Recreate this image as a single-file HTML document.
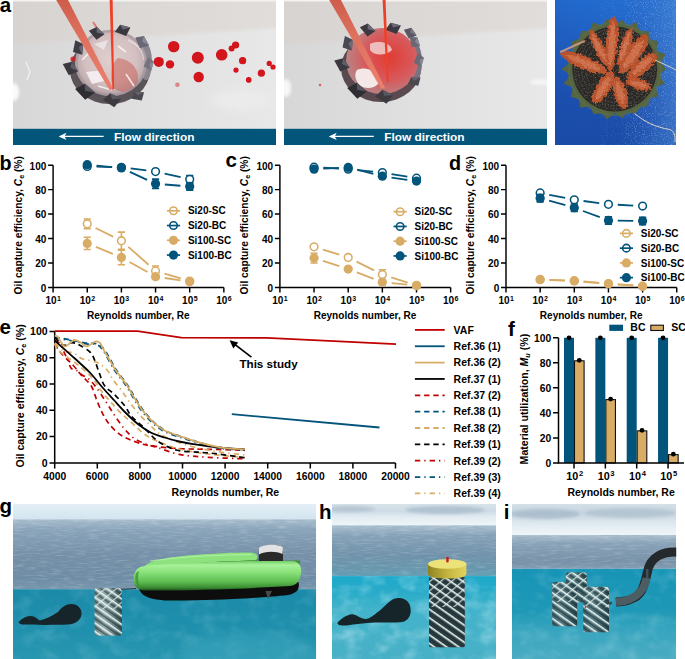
<!DOCTYPE html><html><head><meta charset="utf-8"><style>html,body{margin:0;padding:0;background:#fff;overflow:hidden}svg{display:block}</style></head><body>
<svg width="685" height="659" viewBox="0 0 685 659">
<rect width="685" height="659" fill="#fff"/>
<path d="M53.1 165.2V287.4H223.85" stroke="#000" stroke-width="1.45" fill="none"/>
<path d="M48.1 287.4H53.1M48.1 262.96H53.1M48.1 238.52H53.1M48.1 214.08H53.1M48.1 189.64H53.1M48.1 165.2H53.1M53.1 287.4V292.4M87.25 287.4V292.4M121.4 287.4V292.4M155.55 287.4V292.4M189.7 287.4V292.4M223.85 287.4V292.4" stroke="#000" stroke-width="1.45" fill="none"/>
<g font-family="Liberation Sans, sans-serif" font-weight="bold" fill="#000">
<text x="46.3" y="291.7" font-size="10" text-anchor="end">0</text>
<text x="46.3" y="267.26" font-size="10" text-anchor="end">20</text>
<text x="46.3" y="242.82" font-size="10" text-anchor="end">40</text>
<text x="46.3" y="218.38" font-size="10" text-anchor="end">60</text>
<text x="46.3" y="193.94" font-size="10" text-anchor="end">80</text>
<text x="46.3" y="169.5" font-size="10" text-anchor="end">100</text>
<text x="45.5" y="303.9" font-size="10">10<tspan font-size="7" dx="0.4" dy="-3.1">1</tspan></text>
<text x="79.65" y="303.9" font-size="10">10<tspan font-size="7" dx="0.4" dy="-3.1">2</tspan></text>
<text x="113.8" y="303.9" font-size="10">10<tspan font-size="7" dx="0.4" dy="-3.1">3</tspan></text>
<text x="147.95" y="303.9" font-size="10">10<tspan font-size="7" dx="0.4" dy="-3.1">4</tspan></text>
<text x="182.1" y="303.9" font-size="10">10<tspan font-size="7" dx="0.4" dy="-3.1">5</tspan></text>
<text x="216.25" y="303.9" font-size="10">10<tspan font-size="7" dx="0.4" dy="-3.1">6</tspan></text>
<text x="86.9" y="318.7" font-size="10.1" textLength="102.7" lengthAdjust="spacingAndGlyphs">Reynolds number, Re</text>
<text transform="translate(22.3,294.4) rotate(-90)" font-size="10.4" textLength="138.2" lengthAdjust="spacingAndGlyphs">Oil capture efficiency, <tspan font-style="italic">C</tspan><tspan font-size="7.2" dy="2">e</tspan><tspan dy="-2"> (%)</tspan></text>
<text x="-0.4" y="169.8" font-size="19.8">b</text>
</g>
<path d="M95.59 227.97L113.06 236.6M128.37 246.88L148.58 264.74M164.47 273.55L180.78 278.4" stroke="#d9ac66" stroke-width="1.8" fill="none"/>
<path d="M95.85 246.95L112.8 253.92M129.51 262.02L147.44 272.09M164.75 278L180.5 280.31" stroke="#d9ac66" stroke-width="1.8" fill="none"/>
<path d="M96.55 166.65L112.1 167.04M130.63 168.43L146.32 170.4M164.62 173.6L180.63 177.21" stroke="#03547a" stroke-width="1.8" fill="none"/>
<path d="M96.51 165.57L112.14 167.03M129.83 171.81L147.12 179.85M164.82 184.5L180.43 185.73" stroke="#03547a" stroke-width="1.8" fill="none"/>
<path d="M87.25 218.97V228.74M83.65 218.97H90.85M83.65 228.74H90.85" stroke="#d9ac66" stroke-width="1.6" fill="none"/>
<path d="M121.4 232.17V249.27M117.8 232.17H125M117.8 249.27H125" stroke="#d9ac66" stroke-width="1.6" fill="none"/>
<path d="M155.55 266.01V275.79M151.95 266.01H159.15M151.95 275.79H159.15" stroke="#d9ac66" stroke-width="1.6" fill="none"/>
<circle cx="87.25" cy="223.86" r="3.85" fill="#fff" stroke="#d9ac66" stroke-width="1.55"/>
<circle cx="121.4" cy="240.72" r="3.85" fill="#fff" stroke="#d9ac66" stroke-width="1.55"/>
<circle cx="155.55" cy="270.9" r="3.85" fill="#fff" stroke="#d9ac66" stroke-width="1.55"/>
<circle cx="189.7" cy="281.05" r="3.85" fill="#fff" stroke="#d9ac66" stroke-width="1.55"/>
<path d="M87.25 237.3V249.52M83.65 237.3H90.85M83.65 249.52H90.85" stroke="#d9ac66" stroke-width="1.6" fill="none"/>
<path d="M121.4 250.13V264.79M117.8 250.13H125M117.8 264.79H125" stroke="#d9ac66" stroke-width="1.6" fill="none"/>
<path d="M155.55 274.2V279.09M151.95 274.2H159.15M151.95 279.09H159.15" stroke="#d9ac66" stroke-width="1.6" fill="none"/>
<circle cx="87.25" cy="243.41" r="4.62" fill="#d9ac66"/>
<circle cx="121.4" cy="257.46" r="4.62" fill="#d9ac66"/>
<circle cx="155.55" cy="276.65" r="4.62" fill="#d9ac66"/>
<circle cx="189.7" cy="281.66" r="4.62" fill="#d9ac66"/>
<path d="M189.7 175.59V182.92M186.1 175.59H193.3M186.1 182.92H193.3" stroke="#03547a" stroke-width="1.6" fill="none"/>
<circle cx="87.25" cy="166.42" r="3.85" fill="#fff" stroke="#03547a" stroke-width="1.55"/>
<circle cx="121.4" cy="167.28" r="3.85" fill="#fff" stroke="#03547a" stroke-width="1.55"/>
<circle cx="155.55" cy="171.55" r="3.85" fill="#fff" stroke="#03547a" stroke-width="1.55"/>
<circle cx="189.7" cy="179.25" r="3.85" fill="#fff" stroke="#03547a" stroke-width="1.55"/>
<path d="M155.55 179.13V188.42M151.95 179.13H159.15M151.95 188.42H159.15" stroke="#03547a" stroke-width="1.6" fill="none"/>
<path d="M189.7 182.8V190.13M186.1 182.8H193.3M186.1 190.13H193.3" stroke="#03547a" stroke-width="1.6" fill="none"/>
<circle cx="87.25" cy="164.71" r="4.62" fill="#03547a"/>
<circle cx="121.4" cy="167.89" r="4.62" fill="#03547a"/>
<circle cx="155.55" cy="183.77" r="4.62" fill="#03547a"/>
<circle cx="189.7" cy="186.46" r="4.62" fill="#03547a"/>
<circle cx="173.5" cy="210.8" r="3.75" fill="none" stroke="#d9ac66" stroke-width="1.6"/>
<path d="M166.9 210.8H180.1" stroke="#d9ac66" stroke-width="1.7"/>
<text x="187.9" y="214.4" font-family="Liberation Sans, sans-serif" font-weight="bold" font-size="10">Si20-SC</text>
<circle cx="173.5" cy="225.55" r="3.75" fill="none" stroke="#03547a" stroke-width="1.6"/>
<path d="M166.9 225.55H180.1" stroke="#03547a" stroke-width="1.7"/>
<text x="187.9" y="229.15" font-family="Liberation Sans, sans-serif" font-weight="bold" font-size="10">Si20-BC</text>
<circle cx="173.5" cy="240.3" r="4.58" fill="#d9ac66"/>
<path d="M166.9 240.3H180.1" stroke="#d9ac66" stroke-width="1.7"/>
<text x="187.9" y="243.9" font-family="Liberation Sans, sans-serif" font-weight="bold" font-size="10">Si100-SC</text>
<circle cx="173.5" cy="255.05" r="4.58" fill="#03547a"/>
<path d="M166.9 255.05H180.1" stroke="#03547a" stroke-width="1.7"/>
<text x="187.9" y="258.65" font-family="Liberation Sans, sans-serif" font-weight="bold" font-size="10">Si100-BC</text>
<path d="M279.9 165.2V287.4H450.65" stroke="#000" stroke-width="1.45" fill="none"/>
<path d="M274.9 287.4H279.9M274.9 262.96H279.9M274.9 238.52H279.9M274.9 214.08H279.9M274.9 189.64H279.9M274.9 165.2H279.9M279.9 287.4V292.4M314.05 287.4V292.4M348.2 287.4V292.4M382.35 287.4V292.4M416.5 287.4V292.4M450.65 287.4V292.4" stroke="#000" stroke-width="1.45" fill="none"/>
<g font-family="Liberation Sans, sans-serif" font-weight="bold" fill="#000">
<text x="273.1" y="291.7" font-size="10" text-anchor="end">0</text>
<text x="273.1" y="267.26" font-size="10" text-anchor="end">20</text>
<text x="273.1" y="242.82" font-size="10" text-anchor="end">40</text>
<text x="273.1" y="218.38" font-size="10" text-anchor="end">60</text>
<text x="273.1" y="193.94" font-size="10" text-anchor="end">80</text>
<text x="273.1" y="169.5" font-size="10" text-anchor="end">100</text>
<text x="272.3" y="303.9" font-size="10">10<tspan font-size="7" dx="0.4" dy="-3.1">1</tspan></text>
<text x="306.45" y="303.9" font-size="10">10<tspan font-size="7" dx="0.4" dy="-3.1">2</tspan></text>
<text x="340.6" y="303.9" font-size="10">10<tspan font-size="7" dx="0.4" dy="-3.1">3</tspan></text>
<text x="374.75" y="303.9" font-size="10">10<tspan font-size="7" dx="0.4" dy="-3.1">4</tspan></text>
<text x="408.9" y="303.9" font-size="10">10<tspan font-size="7" dx="0.4" dy="-3.1">5</tspan></text>
<text x="443.05" y="303.9" font-size="10">10<tspan font-size="7" dx="0.4" dy="-3.1">6</tspan></text>
<text x="313.7" y="318.7" font-size="10.1" textLength="102.7" lengthAdjust="spacingAndGlyphs">Reynolds number, Re</text>
<text transform="translate(248.3,294.4) rotate(-90)" font-size="10.4" textLength="138.2" lengthAdjust="spacingAndGlyphs">Oil capture efficiency, <tspan font-style="italic">C</tspan><tspan font-size="7.2" dy="2">e</tspan><tspan dy="-2"> (%)</tspan></text>
<text x="225.6" y="166.6" font-size="20.6">c</text>
</g>
<path d="M322.93 249.59L339.32 254.7M356.51 261.63L374.04 270.4M391.21 277.39L407.64 282.62" stroke="#d9ac66" stroke-width="1.8" fill="none"/>
<path d="M322.9 260.92L339.35 266.22M356.89 272.4L373.66 278.82M391.6 283.07L407.25 284.64" stroke="#d9ac66" stroke-width="1.8" fill="none"/>
<path d="M323.33 167.69L338.92 168.58M357.45 170.04L373.1 171.6M391.53 174.04L407.32 176.64" stroke="#03547a" stroke-width="1.8" fill="none"/>
<path d="M323.34 168.65L338.91 167.86M357.21 169.72L373.34 173.88M391.56 177.52L407.29 179.77" stroke="#03547a" stroke-width="1.8" fill="none"/>
<path d="M382.35 269.68V279.46M378.75 269.68H385.95M378.75 279.46H385.95" stroke="#d9ac66" stroke-width="1.6" fill="none"/>
<circle cx="314.05" cy="246.83" r="3.85" fill="#fff" stroke="#d9ac66" stroke-width="1.55"/>
<circle cx="348.2" cy="257.46" r="3.85" fill="#fff" stroke="#d9ac66" stroke-width="1.55"/>
<circle cx="382.35" cy="274.57" r="3.85" fill="#fff" stroke="#d9ac66" stroke-width="1.55"/>
<circle cx="416.5" cy="285.44" r="3.85" fill="#fff" stroke="#d9ac66" stroke-width="1.55"/>
<path d="M314.05 253.18V262.96M310.45 253.18H317.65M310.45 262.96H317.65" stroke="#d9ac66" stroke-width="1.6" fill="none"/>
<path d="M382.35 279.7V284.59M378.75 279.7H385.95M378.75 284.59H385.95" stroke="#d9ac66" stroke-width="1.6" fill="none"/>
<circle cx="314.05" cy="258.07" r="4.62" fill="#d9ac66"/>
<circle cx="348.2" cy="269.07" r="4.62" fill="#d9ac66"/>
<circle cx="382.35" cy="282.15" r="4.62" fill="#d9ac66"/>
<circle cx="416.5" cy="285.57" r="4.62" fill="#d9ac66"/>
<circle cx="314.05" cy="167.16" r="3.85" fill="#fff" stroke="#03547a" stroke-width="1.55"/>
<circle cx="348.2" cy="169.11" r="3.85" fill="#fff" stroke="#03547a" stroke-width="1.55"/>
<circle cx="382.35" cy="172.53" r="3.85" fill="#fff" stroke="#03547a" stroke-width="1.55"/>
<circle cx="416.5" cy="178.15" r="3.85" fill="#fff" stroke="#03547a" stroke-width="1.55"/>
<circle cx="314.05" cy="169.11" r="4.62" fill="#03547a"/>
<circle cx="348.2" cy="167.4" r="4.62" fill="#03547a"/>
<circle cx="382.35" cy="176.2" r="4.62" fill="#03547a"/>
<circle cx="416.5" cy="181.09" r="4.62" fill="#03547a"/>
<circle cx="400.1" cy="211.7" r="3.75" fill="none" stroke="#d9ac66" stroke-width="1.6"/>
<path d="M393.5 211.7H406.7" stroke="#d9ac66" stroke-width="1.7"/>
<text x="414.5" y="215.3" font-family="Liberation Sans, sans-serif" font-weight="bold" font-size="10">Si20-SC</text>
<circle cx="400.1" cy="226.45" r="3.75" fill="none" stroke="#03547a" stroke-width="1.6"/>
<path d="M393.5 226.45H406.7" stroke="#03547a" stroke-width="1.7"/>
<text x="414.5" y="230.05" font-family="Liberation Sans, sans-serif" font-weight="bold" font-size="10">Si20-BC</text>
<circle cx="400.1" cy="241.2" r="4.58" fill="#d9ac66"/>
<path d="M393.5 241.2H406.7" stroke="#d9ac66" stroke-width="1.7"/>
<text x="414.5" y="244.8" font-family="Liberation Sans, sans-serif" font-weight="bold" font-size="10">Si100-SC</text>
<circle cx="400.1" cy="255.95" r="4.58" fill="#03547a"/>
<path d="M393.5 255.95H406.7" stroke="#03547a" stroke-width="1.7"/>
<text x="414.5" y="259.55" font-family="Liberation Sans, sans-serif" font-weight="bold" font-size="10">Si100-BC</text>
<path d="M506 165.2V287.4H676.75" stroke="#000" stroke-width="1.45" fill="none"/>
<path d="M501 287.4H506M501 262.96H506M501 238.52H506M501 214.08H506M501 189.64H506M501 165.2H506M506 287.4V292.4M540.15 287.4V292.4M574.3 287.4V292.4M608.45 287.4V292.4M642.6 287.4V292.4M676.75 287.4V292.4" stroke="#000" stroke-width="1.45" fill="none"/>
<g font-family="Liberation Sans, sans-serif" font-weight="bold" fill="#000">
<text x="499.2" y="291.7" font-size="10" text-anchor="end">0</text>
<text x="499.2" y="267.26" font-size="10" text-anchor="end">20</text>
<text x="499.2" y="242.82" font-size="10" text-anchor="end">40</text>
<text x="499.2" y="218.38" font-size="10" text-anchor="end">60</text>
<text x="499.2" y="193.94" font-size="10" text-anchor="end">80</text>
<text x="499.2" y="169.5" font-size="10" text-anchor="end">100</text>
<text x="498.4" y="303.9" font-size="10">10<tspan font-size="7" dx="0.4" dy="-3.1">1</tspan></text>
<text x="532.55" y="303.9" font-size="10">10<tspan font-size="7" dx="0.4" dy="-3.1">2</tspan></text>
<text x="566.7" y="303.9" font-size="10">10<tspan font-size="7" dx="0.4" dy="-3.1">3</tspan></text>
<text x="600.85" y="303.9" font-size="10">10<tspan font-size="7" dx="0.4" dy="-3.1">4</tspan></text>
<text x="635" y="303.9" font-size="10">10<tspan font-size="7" dx="0.4" dy="-3.1">5</tspan></text>
<text x="669.15" y="303.9" font-size="10">10<tspan font-size="7" dx="0.4" dy="-3.1">6</tspan></text>
<text x="539.8" y="318.7" font-size="10.1" textLength="102.7" lengthAdjust="spacingAndGlyphs">Reynolds number, Re</text>
<text transform="translate(474.4,294.4) rotate(-90)" font-size="10.4" textLength="138.2" lengthAdjust="spacingAndGlyphs">Oil capture efficiency, <tspan font-style="italic">C</tspan><tspan font-size="7.2" dy="2">e</tspan><tspan dy="-2"> (%)</tspan></text>
<text x="448.9" y="169.8" font-size="19.8">d</text>
</g>
<path d="M549.44 279.79L565.01 280.35M583.56 281.51L599.19 282.91M617.73 284.4L633.32 285.51" stroke="#d9ac66" stroke-width="1.8" fill="none"/>
<path d="M549.44 280.07L565.01 280.68M583.57 281.78L599.18 283M617.73 284.4L633.32 285.51" stroke="#d9ac66" stroke-width="1.8" fill="none"/>
<path d="M549.27 194.77L565.18 197.96M583.52 201L599.23 203.08M617.74 204.77L633.31 205.55" stroke="#03547a" stroke-width="1.8" fill="none"/>
<path d="M549.11 200.69L565.34 205.23M583.02 210.97L599.73 217.19M617.75 220.6L633.3 220.88" stroke="#03547a" stroke-width="1.8" fill="none"/>
<circle cx="540.15" cy="279.46" r="3.85" fill="#fff" stroke="#d9ac66" stroke-width="1.55"/>
<circle cx="574.3" cy="280.68" r="3.85" fill="#fff" stroke="#d9ac66" stroke-width="1.55"/>
<circle cx="608.45" cy="283.73" r="3.85" fill="#fff" stroke="#d9ac66" stroke-width="1.55"/>
<circle cx="642.6" cy="286.18" r="3.85" fill="#fff" stroke="#d9ac66" stroke-width="1.55"/>
<circle cx="540.15" cy="279.7" r="4.62" fill="#d9ac66"/>
<circle cx="574.3" cy="281.05" r="4.62" fill="#d9ac66"/>
<circle cx="608.45" cy="283.73" r="4.62" fill="#d9ac66"/>
<circle cx="642.6" cy="286.18" r="4.62" fill="#d9ac66"/>
<circle cx="540.15" cy="192.94" r="3.85" fill="#fff" stroke="#03547a" stroke-width="1.55"/>
<circle cx="574.3" cy="199.78" r="3.85" fill="#fff" stroke="#03547a" stroke-width="1.55"/>
<circle cx="608.45" cy="204.3" r="3.85" fill="#fff" stroke="#03547a" stroke-width="1.55"/>
<circle cx="642.6" cy="206.01" r="3.85" fill="#fff" stroke="#03547a" stroke-width="1.55"/>
<path d="M540.15 194.53V201.86M536.55 194.53H543.75M536.55 201.86H543.75" stroke="#03547a" stroke-width="1.6" fill="none"/>
<path d="M574.3 204.06V211.39M570.7 204.06H577.9M570.7 211.39H577.9" stroke="#03547a" stroke-width="1.6" fill="none"/>
<path d="M608.45 216.77V224.1M604.85 216.77H612.05M604.85 224.1H612.05" stroke="#03547a" stroke-width="1.6" fill="none"/>
<path d="M642.6 217.38V224.71M639 217.38H646.2M639 224.71H646.2" stroke="#03547a" stroke-width="1.6" fill="none"/>
<circle cx="540.15" cy="198.19" r="4.62" fill="#03547a"/>
<circle cx="574.3" cy="207.73" r="4.62" fill="#03547a"/>
<circle cx="608.45" cy="220.43" r="4.62" fill="#03547a"/>
<circle cx="642.6" cy="221.05" r="4.62" fill="#03547a"/>
<circle cx="626.4" cy="233.4" r="3.75" fill="none" stroke="#d9ac66" stroke-width="1.6"/>
<path d="M619.8 233.4H633" stroke="#d9ac66" stroke-width="1.7"/>
<text x="640.8" y="237" font-family="Liberation Sans, sans-serif" font-weight="bold" font-size="10">Si20-SC</text>
<circle cx="626.4" cy="248.15" r="3.75" fill="none" stroke="#03547a" stroke-width="1.6"/>
<path d="M619.8 248.15H633" stroke="#03547a" stroke-width="1.7"/>
<text x="640.8" y="251.75" font-family="Liberation Sans, sans-serif" font-weight="bold" font-size="10">Si20-BC</text>
<circle cx="626.4" cy="262.9" r="4.58" fill="#d9ac66"/>
<path d="M619.8 262.9H633" stroke="#d9ac66" stroke-width="1.7"/>
<text x="640.8" y="266.5" font-family="Liberation Sans, sans-serif" font-weight="bold" font-size="10">Si100-SC</text>
<circle cx="626.4" cy="277.65" r="4.58" fill="#03547a"/>
<path d="M619.8 277.65H633" stroke="#03547a" stroke-width="1.7"/>
<text x="640.8" y="281.25" font-family="Liberation Sans, sans-serif" font-weight="bold" font-size="10">Si100-BC</text>
<path d="M54.7 331.4V462.9H395.5" stroke="#000" stroke-width="1.5" fill="none"/>
<path d="M49.5 462.9H54.7M49.5 436.6H54.7M49.5 410.3H54.7M49.5 384H54.7M49.5 357.7H54.7M49.5 331.4H54.7M54.7 462.9V468.4M97.3 462.9V468.4M139.9 462.9V468.4M182.5 462.9V468.4M225.1 462.9V468.4M267.7 462.9V468.4M310.3 462.9V468.4M352.9 462.9V468.4M395.5 462.9V468.4" stroke="#000" stroke-width="1.5" fill="none"/>
<g font-family="Liberation Sans, sans-serif" font-weight="bold" fill="#000">
<text x="47.6" y="466.7" font-size="10.5" text-anchor="end">0</text>
<text x="47.6" y="440.4" font-size="10.5" text-anchor="end">20</text>
<text x="47.6" y="414.1" font-size="10.5" text-anchor="end">40</text>
<text x="47.6" y="387.8" font-size="10.5" text-anchor="end">60</text>
<text x="47.6" y="361.5" font-size="10.5" text-anchor="end">80</text>
<text x="47.6" y="335.2" font-size="10.5" text-anchor="end">100</text>
<text x="54.7" y="479.6" font-size="10.3" text-anchor="middle">4000</text>
<text x="97.3" y="479.6" font-size="10.3" text-anchor="middle">6000</text>
<text x="139.9" y="479.6" font-size="10.3" text-anchor="middle">8000</text>
<text x="182.5" y="479.6" font-size="10.3" text-anchor="middle">10000</text>
<text x="225.1" y="479.6" font-size="10.3" text-anchor="middle">12000</text>
<text x="267.7" y="479.6" font-size="10.3" text-anchor="middle">14000</text>
<text x="310.3" y="479.6" font-size="10.3" text-anchor="middle">16000</text>
<text x="352.9" y="479.6" font-size="10.3" text-anchor="middle">18000</text>
<text x="395.5" y="479.6" font-size="10.3" text-anchor="middle">20000</text>
<text x="171.6" y="495.9" font-size="10.5" textLength="107.6" lengthAdjust="spacingAndGlyphs">Reynolds number, Re</text>
<text transform="translate(23.6,467.6) rotate(-90)" font-size="10.8" textLength="143.4" lengthAdjust="spacingAndGlyphs">Oil capture efficiency, <tspan font-style="italic">C</tspan><tspan font-size="7.4" dy="2">e</tspan><tspan dy="-2"> (%)</tspan></text>
<text x="-0.4" y="333.6" font-size="20.5">e</text>
<text x="239.4" y="368.2" font-size="11.5" textLength="58.3" lengthAdjust="spacingAndGlyphs">This study</text>
</g>
<path d="M251.4 357.2L233.5 343.3" stroke="#000" stroke-width="1.7"/>
<path d="M229.6 340.3L238.2 342.6L233.3 348.5Z" fill="#000"/>
<path d="M54.7 340.5C55.62 341.08 58.65 342.08 60.2 344C61.75 345.92 62.78 349.4 64 352C65.22 354.6 66.33 356.93 67.5 359.6C68.67 362.27 69.75 366.27 71 368C72.25 369.73 73.83 369.5 75 370C76.17 370.5 76.83 370.17 78 371C79.17 371.83 80.27 373.72 82 375C83.73 376.28 86.07 376.7 88.4 378.7C90.73 380.7 93.1 383.18 96 387C98.9 390.82 102.75 396.95 105.8 401.6C108.85 406.25 111.27 410.45 114.3 414.9C117.33 419.35 120.77 424.45 124 428.3C127.23 432.15 130.07 435.38 133.7 438C137.33 440.62 141.75 442.38 145.8 444C149.85 445.62 152.43 445.97 158 447.7C163.57 449.43 170.8 452.8 179.2 454.4C187.6 456 197.43 456.57 208.4 457.3C219.37 458.03 238.9 458.55 245 458.8" stroke="#c00000" stroke-width="1.7" fill="none" stroke-dasharray="5.4 4 1.3 4"/>
<path d="M54.7 344C55.77 345.53 58.07 349.7 61.1 353.2C64.13 356.7 69.42 361.2 72.9 365C76.38 368.8 78.95 372.53 82 376C85.05 379.47 88.65 381.53 91.2 385.8C93.75 390.07 95.28 396.75 97.3 401.6C99.32 406.45 101.08 410.87 103.3 414.9C105.52 418.93 107.55 422.37 110.6 425.8C113.65 429.23 117.55 432.87 121.6 435.5C125.65 438.13 130.17 439.9 134.9 441.6C139.63 443.3 142.62 444.53 150 445.7C157.38 446.87 169.47 448 179.2 448.6C188.93 449.2 197.43 449.02 208.4 449.3C219.37 449.58 238.9 450.13 245 450.3" stroke="#c00000" stroke-width="1.7" fill="none" stroke-dasharray="5.4 3.8"/>
<path d="M54.7 338.2C56.68 338.47 61.28 338.87 66.6 339.8C71.92 340.73 81.7 343.05 86.6 343.8C91.5 344.55 93.37 343.35 96 344.3C98.63 345.25 99.83 346.07 102.4 349.5C104.97 352.93 109.32 361.35 111.4 364.9C113.48 368.45 112.5 367.38 114.9 370.8C117.3 374.22 122.77 380.95 125.8 385.4C128.83 389.85 130.47 393.27 133.1 397.5C135.73 401.73 138.37 406.55 141.6 410.8C144.83 415.05 149.07 419.75 152.5 423C155.93 426.25 159.55 428.58 162.2 430.3C164.85 432.02 164.45 431.82 168.4 433.3C172.35 434.78 179.82 437.25 185.9 439.2C191.98 441.15 198.82 443.43 204.9 445C210.98 446.57 215.83 447.75 222.4 448.6C228.97 449.45 240.65 449.85 244.3 450.1" stroke="#03547a" stroke-width="1.7" fill="none" stroke-dasharray="5.4 4 1.3 4"/>
<path d="M54.7 337.6C56.68 337.85 61.28 338.17 66.6 339.1C71.92 340.03 81.7 342.45 86.6 343.2C91.5 343.95 93.1 342.63 96 343.6C98.9 344.57 101.17 345.53 104 349C106.83 352.47 110.92 360.85 113 364.4C115.08 367.95 114.1 366.88 116.5 370.3C118.9 373.72 124.37 380.45 127.4 384.9C130.43 389.35 132.07 392.77 134.7 397C137.33 401.23 139.97 406.05 143.2 410.3C146.43 414.55 150.67 419.25 154.1 422.5C157.53 425.75 161.15 428.08 163.8 429.8C166.45 431.52 166.05 431.32 170 432.8C173.95 434.28 181.42 436.75 187.5 438.7C193.58 440.65 200.42 442.93 206.5 444.5C212.58 446.07 217.43 447.25 224 448.1C230.57 448.95 242.25 449.35 245.9 449.6" stroke="#03547a" stroke-width="1.7" fill="none" stroke-dasharray="5.4 3.8"/>
<path d="M54.7 343.5C55.17 344.52 55.67 347.52 57.5 349.6C59.33 351.68 62.07 353.27 65.7 356C69.33 358.73 74.75 362.22 79.3 366C83.85 369.78 89.4 374.6 93 378.7C96.6 382.8 98.17 387 100.9 390.6C103.63 394.2 106.17 396.65 109.4 400.3C112.63 403.95 116.45 408.65 120.3 412.5C124.15 416.35 128.45 419.77 132.5 423.4C136.55 427.03 140.35 431.28 144.6 434.3C148.85 437.32 152.27 439.05 158 441.5C163.73 443.95 170.67 446.92 179 449C187.33 451.08 197 452.58 208 454C219 455.42 238.83 456.92 245 457.5" stroke="#d9ac66" stroke-width="1.7" fill="none" stroke-dasharray="5.4 3.8"/>
<path d="M54.7 343C56.07 344.25 59.7 348.8 62.9 350.5C66.1 352.2 70.72 351.83 73.9 353.2C77.08 354.57 78.22 357.18 82 358.7C85.78 360.22 92.43 360.42 96.6 362.3C100.77 364.18 104.27 367.1 107 370C109.73 372.9 110.57 376.27 113 379.7C115.43 383.13 118.77 386.75 121.6 390.6C124.43 394.45 126.97 398.75 130 402.8C133.03 406.85 136.35 411.07 139.8 414.9C143.25 418.73 147.27 422.57 150.7 425.8C154.13 429.03 155.52 431.43 160.4 434.3C165.28 437.17 171.73 440.3 180 443C188.27 445.7 199.17 448.5 210 450.5C220.83 452.5 239.17 454.25 245 455" stroke="#d9ac66" stroke-width="1.7" fill="none" stroke-dasharray="5.4 4 1.3 4"/>
<path d="M54.7 337.5C56.22 338.78 60.92 344.33 63.8 345.2C66.68 346.07 69.42 342.73 72 342.7C74.58 342.67 76.25 343.4 79.3 345C82.35 346.6 87.72 349.72 90.3 352.3C92.88 354.88 93.28 357 94.8 360.5C96.32 364 97.77 369.08 99.4 373.3C101.03 377.52 102.12 382.3 104.6 385.8C107.08 389.3 110.87 390.87 114.3 394.3C117.73 397.73 122.37 402.77 125.2 406.4C128.03 410.03 128.07 412.45 131.3 416.1C134.53 419.75 140.15 424.1 144.6 428.3C149.05 432.5 152.72 437.68 158 441.3C163.28 444.92 169.6 448.18 176.3 450C183 451.82 191.63 451.58 198.2 452.2C204.77 452.82 207.9 452.77 215.7 453.7C223.5 454.63 240.12 457.12 245 457.8" stroke="#000" stroke-width="1.7" fill="none" stroke-dasharray="5.4 3.8"/>
<path d="M54.7 340.5C58.05 343.5 68.87 353.08 74.8 358.5C80.73 363.92 85.75 368.25 90.3 373C94.85 377.75 98.1 382.42 102.1 387C106.1 391.58 110.25 396.08 114.3 400.5C118.35 404.92 122.37 409.5 126.4 413.5C130.43 417.5 134.45 421.33 138.5 424.5C142.55 427.67 146.35 430.33 150.7 432.5C155.05 434.67 159.85 436 164.6 437.5C169.35 439 174.33 440.38 179.2 441.5C184.07 442.62 188.93 443.38 193.8 444.2C198.67 445.02 203.53 445.8 208.4 446.4C213.27 447 216.9 447.28 223 447.8C229.1 448.32 241.33 449.22 245 449.5" stroke="#000" stroke-width="1.8" fill="none"/>
<path d="M54.7 335.5C55.25 335.75 56.33 335.18 58 337C59.67 338.82 62.05 345.87 64.7 346.4C67.35 346.93 71.35 340.93 73.9 340.2C76.45 339.47 77.88 340.97 80 342C82.12 343.03 83.98 346.5 86.6 346.4C89.22 346.3 93.47 341.97 95.7 341.4C97.93 340.83 98.78 341.78 100 343C101.22 344.22 101 345.18 103 348.7C105 352.22 109.92 360.55 112 364.1C114.08 367.65 113.1 366.58 115.5 370C117.9 373.42 123.37 380.15 126.4 384.6C129.43 389.05 131.07 392.47 133.7 396.7C136.33 400.93 138.97 405.75 142.2 410C145.43 414.25 149.67 418.95 153.1 422.2C156.53 425.45 160.15 427.78 162.8 429.5C165.45 431.22 165.05 431.02 169 432.5C172.95 433.98 180.42 436.45 186.5 438.4C192.58 440.35 199.42 442.63 205.5 444.2C211.58 445.77 216.43 446.95 223 447.8C229.57 448.65 241.25 449.05 244.9 449.3" stroke="#d9ac66" stroke-width="1.8" fill="none"/>
<path d="M231.8 414.2L379.5 427.5" stroke="#03547a" stroke-width="1.8" fill="none"/>
<path d="M54.7 331.2H137.5L181.3 337.6L266.7 337.9L396 344.2" stroke="#c00000" stroke-width="1.8" fill="none"/>
<path d="M414.9 329.9H444.7" stroke="#c00000" stroke-width="1.8"/>
<text x="453.6" y="333.7" font-family="Liberation Sans, sans-serif" font-weight="bold" font-size="10.5">VAF</text>
<path d="M414.9 346.25H444.7" stroke="#03547a" stroke-width="1.8"/>
<text x="453.6" y="350.05" font-family="Liberation Sans, sans-serif" font-weight="bold" font-size="10.5">Ref.36 (1)</text>
<path d="M414.9 362.6H444.7" stroke="#d9ac66" stroke-width="1.8"/>
<text x="453.6" y="366.4" font-family="Liberation Sans, sans-serif" font-weight="bold" font-size="10.5">Ref.36 (2)</text>
<path d="M414.9 378.95H444.7" stroke="#000" stroke-width="1.8"/>
<text x="453.6" y="382.75" font-family="Liberation Sans, sans-serif" font-weight="bold" font-size="10.5">Ref.37 (1)</text>
<path d="M414.9 395.3H444.7" stroke="#c00000" stroke-width="1.8" stroke-dasharray="5.4 3.8"/>
<text x="453.6" y="399.1" font-family="Liberation Sans, sans-serif" font-weight="bold" font-size="10.5">Ref.37 (2)</text>
<path d="M414.9 411.65H444.7" stroke="#03547a" stroke-width="1.8" stroke-dasharray="5.4 3.8"/>
<text x="453.6" y="415.45" font-family="Liberation Sans, sans-serif" font-weight="bold" font-size="10.5">Ref.38 (1)</text>
<path d="M414.9 428H444.7" stroke="#d9ac66" stroke-width="1.8" stroke-dasharray="5.4 3.8"/>
<text x="453.6" y="431.8" font-family="Liberation Sans, sans-serif" font-weight="bold" font-size="10.5">Ref.38 (2)</text>
<path d="M414.9 444.35H444.7" stroke="#000" stroke-width="1.8" stroke-dasharray="5.4 3.8"/>
<text x="453.6" y="448.15" font-family="Liberation Sans, sans-serif" font-weight="bold" font-size="10.5">Ref.39 (1)</text>
<path d="M414.9 460.7H444.7" stroke="#c00000" stroke-width="1.8" stroke-dasharray="5.4 4 1.3 4"/>
<text x="453.6" y="464.5" font-family="Liberation Sans, sans-serif" font-weight="bold" font-size="10.5">Ref.39 (2)</text>
<path d="M414.9 477.05H444.7" stroke="#03547a" stroke-width="1.8" stroke-dasharray="5.4 4 1.3 4"/>
<text x="453.6" y="480.85" font-family="Liberation Sans, sans-serif" font-weight="bold" font-size="10.5">Ref.39 (3)</text>
<path d="M414.9 493.4H444.7" stroke="#d9ac66" stroke-width="1.8" stroke-dasharray="5.4 4 1.3 4"/>
<text x="453.6" y="497.2" font-family="Liberation Sans, sans-serif" font-weight="bold" font-size="10.5">Ref.39 (4)</text>
<rect x="564" y="337.8" width="10" height="125.1" fill="#03547a"/>
<rect x="574.5" y="360.82" width="9.6" height="102.08" fill="#d9ac66" stroke="#111" stroke-width="1.1"/>
<circle cx="569" cy="337.8" r="2.4" fill="#000"/>
<circle cx="579.3" cy="360.32" r="2.4" fill="#000"/>
<rect x="595.35" y="337.8" width="10" height="125.1" fill="#03547a"/>
<rect x="605.85" y="399.6" width="9.6" height="63.3" fill="#d9ac66" stroke="#111" stroke-width="1.1"/>
<circle cx="600.35" cy="337.8" r="2.4" fill="#000"/>
<circle cx="610.65" cy="399.1" r="2.4" fill="#000"/>
<rect x="626.7" y="337.8" width="10" height="125.1" fill="#03547a"/>
<rect x="637.2" y="430.87" width="9.6" height="32.03" fill="#d9ac66" stroke="#111" stroke-width="1.1"/>
<circle cx="631.7" cy="337.8" r="2.4" fill="#000"/>
<circle cx="642" cy="430.37" r="2.4" fill="#000"/>
<rect x="658.05" y="337.8" width="10" height="125.1" fill="#03547a"/>
<rect x="668.55" y="454.64" width="9.6" height="8.26" fill="#d9ac66" stroke="#111" stroke-width="1.1"/>
<circle cx="663.05" cy="337.8" r="2.4" fill="#000"/>
<circle cx="673.35" cy="454.14" r="2.4" fill="#000"/>
<path d="M558.5 337.8V462.9H684" stroke="#000" stroke-width="1.5" fill="none"/>
<path d="M553 462.9H558.5M553 437.88H558.5M553 412.86H558.5M553 387.84H558.5M553 362.82H558.5M553 337.8H558.5M574 462.9V468.4M605.35 462.9V468.4M636.7 462.9V468.4M668.05 462.9V468.4" stroke="#000" stroke-width="1.5" fill="none"/>
<g font-family="Liberation Sans, sans-serif" font-weight="bold" fill="#000">
<text x="551.3" y="466.6" font-size="10.3" text-anchor="end">0</text>
<text x="551.3" y="441.58" font-size="10.3" text-anchor="end">20</text>
<text x="551.3" y="416.56" font-size="10.3" text-anchor="end">40</text>
<text x="551.3" y="391.54" font-size="10.3" text-anchor="end">60</text>
<text x="551.3" y="366.52" font-size="10.3" text-anchor="end">80</text>
<text x="551.3" y="341.5" font-size="10.3" text-anchor="end">100</text>
<text x="566.3" y="479.5" font-size="10.8">10<tspan font-size="7.6" dx="0.7" dy="-3.9">2</tspan></text>
<text x="597.65" y="479.5" font-size="10.8">10<tspan font-size="7.6" dx="0.7" dy="-3.9">3</tspan></text>
<text x="629" y="479.5" font-size="10.8">10<tspan font-size="7.6" dx="0.7" dy="-3.9">4</tspan></text>
<text x="660.35" y="479.5" font-size="10.8">10<tspan font-size="7.6" dx="0.7" dy="-3.9">5</tspan></text>
<text x="567.4" y="495.8" font-size="10.5" textLength="107.4" lengthAdjust="spacingAndGlyphs">Reynolds number, Re</text>
<text transform="translate(527.7,464.4) rotate(-90)" font-size="10.7" textLength="130.6" lengthAdjust="spacingAndGlyphs">Material utilization, <tspan font-style="italic">M</tspan><tspan font-style="italic" font-size="7.4" dy="2">u</tspan><tspan dy="-2"> (%)</tspan></text>
<text x="507.9" y="336.2" font-size="20.5">f</text>
<text x="630.3" y="331.1" font-size="10.5">BC</text>
<text x="671.2" y="331.1" font-size="10.5">SC</text>
</g>
<rect x="609.3" y="324.7" width="13.7" height="6.2" fill="#03547a"/>
<rect x="650.8" y="325.2" width="12.6" height="5.3" fill="#d9ac66" stroke="#111" stroke-width="1.1"/>
<defs>
<clipPath id="cA1"><rect x="13" y="0" width="263" height="145"/></clipPath>
<clipPath id="cA2"><rect x="284" y="0" width="263" height="145"/></clipPath>
<clipPath id="cA3"><rect x="555" y="0" width="121" height="145"/></clipPath>
<clipPath id="cG"><rect x="13" y="503.8" width="303.2" height="155.2"/></clipPath>
<clipPath id="cH"><rect x="332" y="503.8" width="164" height="155.2"/></clipPath>
<clipPath id="cI"><rect x="512" y="503.8" width="164.2" height="155.2"/></clipPath>
<filter id="blur1" x="-20%" y="-20%" width="140%" height="140%"><feGaussianBlur stdDeviation="0.7"/></filter>
<filter id="blur2" x="-20%" y="-20%" width="140%" height="140%"><feGaussianBlur stdDeviation="1.6"/></filter>
<filter id="blur4" x="-30%" y="-30%" width="160%" height="160%"><feGaussianBlur stdDeviation="4"/></filter>
<filter id="ripple" x="0" y="0" width="100%" height="100%"><feTurbulence type="fractalNoise" baseFrequency="0.08 0.6" numOctaves="2" seed="4" result="n"/><feColorMatrix in="n" type="matrix" values="0 0 0 0 1  0 0 0 0 1  0 0 0 0 1  0 0 0 1.6 -0.75" result="a"/><feComposite in="a" in2="SourceGraphic" operator="in"/></filter>
<filter id="rippleD" x="0" y="0" width="100%" height="100%"><feTurbulence type="fractalNoise" baseFrequency="0.07 0.7" numOctaves="2" seed="11" result="n"/><feColorMatrix in="n" type="matrix" values="0 0 0 0 0.2  0 0 0 0 0.32  0 0 0 0 0.45  0 0 0 1.8 -0.85" result="a"/><feComposite in="a" in2="SourceGraphic" operator="in"/></filter>
<filter id="caust" x="0" y="0" width="100%" height="100%"><feTurbulence type="fractalNoise" baseFrequency="0.05 0.07" numOctaves="3" seed="9" result="n"/><feColorMatrix in="n" type="matrix" values="0 0 0 0 0.75  0 0 0 0 0.95  0 0 0 0 1  0 0 0 1.4 -0.62" result="a"/><feComposite in="a" in2="SourceGraphic" operator="in"/></filter>
<filter id="speck" x="0" y="0" width="100%" height="100%"><feTurbulence type="fractalNoise" baseFrequency="0.9" numOctaves="1" seed="2" result="n"/><feColorMatrix in="n" type="matrix" values="0 0 0 0 0.75  0 0 0 0 0.85  0 0 0 0 1  0 0 0 2.2 -1.15" result="a"/><feComposite in="a" in2="SourceGraphic" operator="in"/></filter>
<linearGradient id="gBgA" x1="0" y1="0" x2="0" y2="1"><stop offset="0" stop-color="#d8cfca"/><stop offset="0.2" stop-color="#dcd6d2"/><stop offset="0.55" stop-color="#e1dedc"/><stop offset="1" stop-color="#d5d1d1"/></linearGradient>
<linearGradient id="gBgA3" x1="0" y1="0" x2="0" y2="1"><stop offset="0" stop-color="#226cd0"/><stop offset="0.35" stop-color="#1f5cbe"/><stop offset="0.7" stop-color="#1b4ead"/><stop offset="1" stop-color="#1a4aa6"/></linearGradient>
<linearGradient id="gBgA3h" x1="0" y1="0" x2="1" y2="0"><stop offset="0" stop-color="#1a4aa6" stop-opacity="0.15"/><stop offset="0.5" stop-color="#2a64c4" stop-opacity="0"/><stop offset="1" stop-color="#4a8ad8" stop-opacity="0.6"/></linearGradient>
<linearGradient id="gSky" x1="0" y1="0" x2="0" y2="1"><stop offset="0" stop-color="#e4eff6"/><stop offset="1" stop-color="#d3e5ef"/></linearGradient>
<linearGradient id="gSea" x1="0" y1="0" x2="0" y2="1"><stop offset="0" stop-color="#98adbb"/><stop offset="0.25" stop-color="#7f98aa"/><stop offset="0.7" stop-color="#748ea1"/><stop offset="0.92" stop-color="#8198a8"/><stop offset="1" stop-color="#92a6b3"/></linearGradient>
<linearGradient id="gUw" x1="0" y1="0" x2="0" y2="1"><stop offset="0" stop-color="#1d93b0"/><stop offset="0.6" stop-color="#2192ad"/><stop offset="1" stop-color="#2994ab"/></linearGradient>
<linearGradient id="gUwH" x1="0" y1="0" x2="0" y2="1"><stop offset="0" stop-color="#1ca9ca"/><stop offset="0.18" stop-color="#28abc9"/><stop offset="0.4" stop-color="#42b3cb"/><stop offset="1" stop-color="#48b0c6"/></linearGradient>
<linearGradient id="gSeaH" x1="0" y1="0" x2="0" y2="1"><stop offset="0" stop-color="#afc3d1"/><stop offset="0.2" stop-color="#86a2b8"/><stop offset="0.6" stop-color="#6f92aa"/><stop offset="0.9" stop-color="#6598ae"/><stop offset="1" stop-color="#62a0b6"/></linearGradient>
<linearGradient id="gSkyC" x1="0" y1="0" x2="0" y2="1"><stop offset="0" stop-color="#d8e3ea"/><stop offset="0.35" stop-color="#cfdce6"/><stop offset="0.65" stop-color="#e4edf3"/><stop offset="1" stop-color="#eef5f8"/></linearGradient>
<linearGradient id="gBoat" x1="0" y1="0" x2="0" y2="1"><stop offset="0" stop-color="#72cc64"/><stop offset="0.14" stop-color="#a9f29b"/><stop offset="0.42" stop-color="#84de75"/><stop offset="0.72" stop-color="#5aba4e"/><stop offset="0.9" stop-color="#3a8a33"/><stop offset="1" stop-color="#1f4c1c"/></linearGradient>
<linearGradient id="gCyl" x1="0" y1="0" x2="1" y2="0"><stop offset="0" stop-color="#6a888c"/><stop offset="0.35" stop-color="#93aaac"/><stop offset="0.7" stop-color="#6a8488"/><stop offset="1" stop-color="#3a5458"/></linearGradient>
<linearGradient id="gYel" x1="0" y1="0" x2="1" y2="0"><stop offset="0" stop-color="#8f8120"/><stop offset="0.5" stop-color="#c4b43e"/><stop offset="1" stop-color="#e2d460"/></linearGradient>
<linearGradient id="gHose" x1="0" y1="0" x2="1" y2="1"><stop offset="0" stop-color="#1e2326"/><stop offset="1" stop-color="#3a4a50"/></linearGradient>
<radialGradient id="gIn1" cx="0.5" cy="0.45" r="0.6"><stop offset="0" stop-color="#e0cfcf"/><stop offset="0.6" stop-color="#d4c0c0"/><stop offset="1" stop-color="#a8989e"/></radialGradient>
<radialGradient id="gIn2" cx="0.6" cy="0.45" r="0.6"><stop offset="0" stop-color="#e03c34"/><stop offset="0.55" stop-color="#d8585a"/><stop offset="1" stop-color="#b88486"/></radialGradient>
<pattern id="pStripe" patternUnits="userSpaceOnUse" width="7" height="7" patternTransform="rotate(35)"><rect width="7" height="7" fill="none"/><rect width="7" height="1.6" fill="#e8f2ee"/><rect y="3.5" width="7" height="1.3" fill="#1a2a2e" opacity="0.7"/></pattern>
<pattern id="pStripe2" patternUnits="userSpaceOnUse" width="7" height="7" patternTransform="rotate(-40)"><rect width="7" height="7" fill="none"/><rect width="7" height="1.3" fill="#dfeee9" opacity="0.8"/></pattern>
<linearGradient id="gBgH" x1="0" y1="0" x2="1" y2="0"><stop offset="0" stop-color="#d7d7d8"/><stop offset="0.45" stop-color="#dfdfdf"/><stop offset="1" stop-color="#e8e8e8"/></linearGradient>
<linearGradient id="gBgTop" x1="0" y1="0" x2="0" y2="1"><stop offset="0" stop-color="#dcd0c8" stop-opacity="0.95"/><stop offset="0.6" stop-color="#dcd2cc" stop-opacity="0.8"/><stop offset="1" stop-color="#dcd2cc" stop-opacity="0"/></linearGradient>
<linearGradient id="gSeaG" x1="0" y1="0" x2="0" y2="1"><stop offset="0" stop-color="#aac0cf"/><stop offset="0.15" stop-color="#8aa4ba"/><stop offset="0.5" stop-color="#7590a8"/><stop offset="0.85" stop-color="#6e8ca5"/><stop offset="1" stop-color="#7896ad"/></linearGradient>
<linearGradient id="gUwG" x1="0" y1="0" x2="0" y2="1"><stop offset="0" stop-color="#1a8aa8"/><stop offset="0.5" stop-color="#1e8fac"/><stop offset="1" stop-color="#2896b0"/></linearGradient>
<linearGradient id="gSeaI" x1="0" y1="0" x2="0" y2="1"><stop offset="0" stop-color="#afc2d0"/><stop offset="0.25" stop-color="#8aa3b8"/><stop offset="0.8" stop-color="#7791a8"/><stop offset="1" stop-color="#869eb2"/></linearGradient>
<linearGradient id="gUwI" x1="0" y1="0" x2="0" y2="1"><stop offset="0" stop-color="#1794b6"/><stop offset="0.45" stop-color="#1e98b6"/><stop offset="0.68" stop-color="#38a5bf"/><stop offset="1" stop-color="#4aacc2"/></linearGradient>
<linearGradient id="gSkyI" x1="0" y1="0" x2="0" y2="1"><stop offset="0" stop-color="#d5e0e8"/><stop offset="0.3" stop-color="#c6d4df"/><stop offset="0.55" stop-color="#d9e4ec"/><stop offset="0.8" stop-color="#e7f0f5"/><stop offset="1" stop-color="#eef5f8"/></linearGradient>
<filter id="fuzz" x="-10%" y="-10%" width="120%" height="120%"><feTurbulence type="fractalNoise" baseFrequency="0.35" numOctaves="2" seed="5" result="t"/><feDisplacementMap in="SourceGraphic" in2="t" scale="5" xChannelSelector="R" yChannelSelector="G" result="d"/><feGaussianBlur in="d" stdDeviation="0.6"/></filter>
<linearGradient id="gTube" x1="0" y1="0" x2="0" y2="1"><stop offset="0" stop-color="#cc5c4a"/><stop offset="0.4" stop-color="#de705e"/><stop offset="1" stop-color="#ea806e"/></linearGradient>
<linearGradient id="gCylD" x1="0" y1="0" x2="1" y2="0"><stop offset="0" stop-color="#3f6670"/><stop offset="0.35" stop-color="#5b8088"/><stop offset="0.7" stop-color="#3f646c"/><stop offset="1" stop-color="#28464e"/></linearGradient>
</defs>
<g clip-path="url(#cA1)">
<rect x="13" y="0" width="263" height="145" fill="url(#gBgH)"/>
<path d="M8 -5H281V28L8 45Z" fill="#d8d0ca" opacity="0.45" filter="url(#blur2)"/>
<rect x="13" y="0" width="263" height="1.5" fill="#f4f2f0"/>
<ellipse cx="14" cy="92" rx="5" ry="9" fill="#ffffff" opacity="0.9" filter="url(#blur2)"/>
<path d="M26 62L30 72L27 80" stroke="#f8f8f8" stroke-width="1.5" opacity="0.7" fill="none" filter="url(#blur1)"/>
<ellipse cx="240" cy="100" rx="30" ry="10" fill="#eeeeee" opacity="0.7" filter="url(#blur4)"/>
<g filter="url(#blur1)">
<ellipse cx="110" cy="70" rx="40" ry="34" fill="#5a5258"/>
<ellipse cx="146" cy="62" rx="6" ry="18" fill="#8a8690"/>
<ellipse cx="111" cy="63" rx="36" ry="33" fill="url(#gIn1)"/>
<path d="M118 58C134 60 142 74 136 86C128 94 116 94 112 84C110 74 112 62 118 58Z" fill="#c8625a" opacity="0.55"/>
<path d="M86 72L104 70L108 80L92 84Z" fill="#f6f0f2" opacity="0.9"/>
<path d="M94 44L108 40L104 50Z" fill="#efe8ea" opacity="0.8"/>
<path d="M128 40C138 44 144 52 144 60" stroke="#ece6e8" stroke-width="2" fill="none" opacity="0.7"/>
<ellipse cx="111" cy="63" rx="34.5" ry="32" fill="none" stroke="#9a8e96" stroke-width="2.5" opacity="0.55"/>
<path d="M82 60L92 50M126 74L134 86M98 86L112 90M118 46L126 52" stroke="#faf6f8" stroke-width="1.6" fill="none" opacity="0.85"/>
<circle cx="73" cy="59" r="2.6" fill="#d42020" opacity="0.85"/>
<path d="M93 22L99 31" stroke="#e05050" stroke-width="2" opacity="0.7"/>
<path d="M88.86 30.74L96.74 26.9L104.5 34.32L96.52 39.81Z" fill="#3b3940"/>
<path d="M96.74 26.9L104.5 34.32L96.68 32.53Z" fill="#6a6975"/>
<path d="M114.96 31.79L120.04 24.64L130.4 27.43L126.03 36.08Z" fill="#3b3940"/>
<path d="M120.04 24.64L130.4 27.43L122.68 29.61Z" fill="#6a6975"/>
<path d="M135.2 37.38L143.87 36.04L149.08 45.43L139.84 48.31Z" fill="#6a6874"/>
<path d="M143.87 36.04L149.08 45.43L142.14 41.4Z" fill="#8a8894"/>
<path d="M75.3 40.24L83.21 44.03L82.22 54.72L72.96 51.88Z" fill="#3e3c44"/>
<path d="M83.21 44.03L82.22 54.72L78.76 47.48Z" fill="#66656f"/>
<path d="M62.74 64.12L71.76 61.79L78.27 71.16L68.8 75.19Z" fill="#3b3940"/>
<path d="M71.76 61.79L78.27 71.16L70.51 67.64Z" fill="#5f5e68"/>
<path d="M75.11 89.03L84.72 83.74L94.86 92.52L85.24 99.87Z" fill="#2f2d33"/>
<path d="M84.72 83.74L94.86 92.52L84.99 90.77Z" fill="#56555e"/>
<path d="M103 100L110.2 93.25L121 98.65L114.25 107.2Z" fill="#3d3a40"/>
<path d="M110.2 93.25L121 98.65L112 99.33Z" fill="#5a5860"/>
<path d="M147.81 56.9L153.94 61.53L151.22 70.52L143.78 66.48Z" fill="#75737e"/>
<path d="M153.94 61.53L151.22 70.52L149.52 63.71Z" fill="#8f8d98"/>
<path d="M131.55 98.73L134.67 91.71L144.04 92.31L141.79 100.48Z" fill="#4a4850"/>
<path d="M134.67 91.71L144.04 92.31L137.8 95.52Z" fill="#65636b"/>
</g>
<g filter="url(#blur1)">
<circle cx="173.7" cy="46.6" r="5.7" fill="#d3121b" opacity="1"/>
<circle cx="158.8" cy="61.9" r="5" fill="#d3121b" opacity="1"/>
<circle cx="170" cy="64.4" r="4.2" fill="#d3121b" opacity="1"/>
<circle cx="197.8" cy="57.8" r="6" fill="#d3121b" opacity="1"/>
<circle cx="198.7" cy="77" r="5.2" fill="#d3121b" opacity="1"/>
<circle cx="177.4" cy="84.8" r="2.2" fill="#d3121b" opacity="0.45"/>
<circle cx="221.7" cy="54.8" r="5.8" fill="#d3121b" opacity="1"/>
<circle cx="235.6" cy="45" r="3.6" fill="#d3121b" opacity="1"/>
<circle cx="231.6" cy="48.6" r="3" fill="#d3121b" opacity="1"/>
<circle cx="242.6" cy="60.7" r="3.6" fill="#d3121b" opacity="1"/>
<circle cx="236" cy="70.1" r="2.6" fill="#d3121b" opacity="1"/>
<circle cx="248.7" cy="79.9" r="2.8" fill="#d3121b" opacity="1"/>
<circle cx="261.4" cy="73.2" r="3.6" fill="#d3121b" opacity="1"/>
<circle cx="269.2" cy="63.4" r="2.6" fill="#d3121b" opacity="1"/>
<circle cx="273" cy="67" r="2.6" fill="#d3121b" opacity="1"/>
</g>
<path d="M55 -2L67 -2L113.5 89.5L109.5 90Z" fill="url(#gTube)" filter="url(#blur1)"/>
<path d="M109.6 -2L112.6 -2L114.2 89L112.4 89Z" fill="#ee4128" filter="url(#blur1)"/>
<rect x="13" y="128.8" width="263" height="16.2" fill="#03557a"/>
</g>
<g clip-path="url(#cA2)">
<rect x="284" y="0" width="263" height="145" fill="url(#gBgH)"/>
<path d="M279 -5H552V28L279 45Z" fill="#d8d0ca" opacity="0.45" filter="url(#blur2)"/>
<rect x="284" y="0" width="263" height="1.5" fill="#f4f2f0"/>
<ellipse cx="286" cy="88" rx="5" ry="9" fill="#ffffff" opacity="0.8" filter="url(#blur2)"/>
<ellipse cx="540" cy="82" rx="10" ry="3" fill="#f8f8f8" opacity="0.8" filter="url(#blur2)"/>
<g filter="url(#blur1)">
<ellipse cx="381" cy="68" rx="40" ry="34" fill="#5a4a50"/>
<ellipse cx="416" cy="62" rx="6" ry="18" fill="#7a7280"/>
<ellipse cx="382" cy="61" rx="36" ry="33" fill="url(#gIn2)"/>
<path d="M357 70C365 66 376 70 380 80C378 88 368 90 360 86C355 80 354 74 357 70Z" fill="#f8eeee" opacity="0.95"/>
<path d="M370 44C378 40 390 42 392 50C386 56 374 56 370 50Z" fill="#f2d8d8" opacity="0.8"/>
<path d="M359.86 27.34L367.74 23.5L375.5 30.92L367.52 36.41Z" fill="#3b3940"/>
<path d="M367.74 23.5L375.5 30.92L367.68 29.13Z" fill="#6a6975"/>
<path d="M385.46 29.79L390.54 22.64L400.9 25.43L396.53 34.08Z" fill="#3b3940"/>
<path d="M390.54 22.64L400.9 25.43L393.18 27.61Z" fill="#6a6975"/>
<path d="M403.86 29.64L411.29 27.72L416.65 35.43L408.85 38.75Z" fill="#5a5864"/>
<path d="M411.29 27.72L416.65 35.43L410.25 32.54Z" fill="#7a7884"/>
<path d="M344.9 35.94L352.81 39.73L351.82 50.42L342.56 47.58Z" fill="#4a4852"/>
<path d="M352.81 39.73L351.82 50.42L348.36 43.18Z" fill="#6c6b76"/>
<path d="M334.24 60.52L343.26 58.19L349.77 67.56L340.3 71.59Z" fill="#3b3940"/>
<path d="M343.26 58.19L349.77 67.56L342.01 64.04Z" fill="#5f5e68"/>
<path d="M347.21 87.93L356.82 82.64L366.96 91.42L357.34 98.77Z" fill="#2f2d33"/>
<path d="M356.82 82.64L366.96 91.42L357.09 89.67Z" fill="#56555e"/>
<path d="M375.2 96.5L382.4 89.75L393.2 95.15L386.45 103.7Z" fill="#3d3a40"/>
<path d="M382.4 89.75L393.2 95.15L384.2 95.83Z" fill="#5a5860"/>
<path d="M409.62 36.88L417.29 37.24L420.13 46.19L411.7 47.06Z" fill="#6a6874"/>
<path d="M417.29 37.24L420.13 46.19L414.88 41.53Z" fill="#8a8894"/>
<path d="M417.81 53.1L423.94 57.73L421.22 66.72L413.78 62.68Z" fill="#6a6874"/>
<path d="M423.94 57.73L421.22 66.72L419.52 59.91Z" fill="#8a8894"/>
<path d="M408.05 84.03L411.17 77.01L420.54 77.61L418.29 85.78Z" fill="#4a4850"/>
<path d="M411.17 77.01L420.54 77.61L414.3 80.82Z" fill="#65636b"/>
</g>
<path d="M328 -2L340 -2L385 88L381 88.5Z" fill="url(#gTube)" filter="url(#blur1)"/>
<path d="M382.5 -2L385.5 -2L388.6 82L386.8 82Z" fill="#ee4128" filter="url(#blur1)"/>
<circle cx="320" cy="85" r="1.3" fill="#d3141d" opacity="0.6"/>
<rect x="284" y="128.8" width="263" height="16.2" fill="#03557a"/>
</g>
<path d="M62 136.4H103.6" stroke="#fff" stroke-width="1.4"/>
<path d="M58.6 136.4L66.5 132.8L64.5 136.4L66.5 140Z" fill="#fff"/>
<text x="114" y="140.9" font-family="Liberation Sans, sans-serif" font-weight="bold" font-size="11.3" fill="#fff" textLength="80.4" lengthAdjust="spacingAndGlyphs">Flow direction</text>
<path d="M332.2 136.4H373.8" stroke="#fff" stroke-width="1.4"/>
<path d="M328.8 136.4L336.7 132.8L334.7 136.4L336.7 140Z" fill="#fff"/>
<text x="384.2" y="140.9" font-family="Liberation Sans, sans-serif" font-weight="bold" font-size="11.3" fill="#fff" textLength="80.4" lengthAdjust="spacingAndGlyphs">Flow direction</text>
<g clip-path="url(#cA3)">
<rect x="555" y="0" width="121" height="145" fill="url(#gBgA3)"/>
<rect x="555" y="0" width="121" height="145" fill="url(#gBgA3h)"/>
<rect x="625" y="0" width="51" height="145" fill="#fff" filter="url(#speck)" opacity="0.5"/>
<rect x="600" y="0" width="25" height="145" fill="#fff" filter="url(#speck)" opacity="0.2"/>
<path d="M666.17 69L659.19 75.27L665.03 83.48L655.38 87.2L658.54 96.61L649.16 98.26L647.88 106.53L639.58 106.94L635.73 114.12L627.6 112.07L621.92 118.19L614.7 112.88L607.33 119.22L601.46 113.18L593.57 114.35L590.28 106.24L580.4 107.8L578.92 99.38L570.76 96.67L573.14 87.6L563.44 83.75L570.51 75.23L561.62 69L569.79 62.67L565.83 54.94L573.9 50.74L571.44 41.75L579.22 38.87L581.27 31.2L589.7 30.87L592.93 22.27L601.85 26.11L607.28 18.42L614.7 25.21L621.91 19.84L627.41 26.58L636.53 22.16L639.45 31.26L648.39 30.9L649.66 39.31L658.33 41.52L656 50.52L665.44 54.4L660.82 62.5Z" fill="#56653f" filter="url(#blur1)"/>
<circle cx="614.7" cy="69" r="46" fill="none" stroke="#5c6e50" stroke-width="2" opacity="0.6"/>
<circle cx="614.7" cy="69" r="42.5" fill="#2b2824"/>
<circle cx="614.7" cy="69" r="40" fill="none" stroke="#77797c" stroke-width="0.7" stroke-dasharray="1.5 1.5" opacity="0.65"/>
<circle cx="614.7" cy="69" r="36.5" fill="none" stroke="#77797c" stroke-width="0.7" stroke-dasharray="1.5 1.5" opacity="0.65"/>
<circle cx="614.7" cy="69" r="33" fill="none" stroke="#77797c" stroke-width="0.7" stroke-dasharray="1.5 1.5" opacity="0.65"/>
<circle cx="614.7" cy="69" r="29" fill="none" stroke="#77797c" stroke-width="0.7" stroke-dasharray="1.5 1.5" opacity="0.65"/>
<g filter="url(#fuzz)">
<ellipse cx="611.7" cy="43.5" rx="27.36" ry="6" transform="rotate(94.32 611.7 43.5)" fill="#b9512c"/>
<ellipse cx="611.7" cy="43.5" rx="22.56" ry="3" transform="rotate(94.32 611.7 43.5)" fill="#e08a60" opacity="0.5"/>
<ellipse cx="633.45" cy="54" rx="23.23" ry="7.5" transform="rotate(125.67 633.45 54)" fill="#b9512c"/>
<ellipse cx="633.45" cy="54" rx="17.23" ry="3.75" transform="rotate(125.67 633.45 54)" fill="#e08a60" opacity="0.5"/>
<ellipse cx="583.85" cy="62.5" rx="24.56" ry="6.5" transform="rotate(22.79 583.85 62.5)" fill="#b9512c"/>
<ellipse cx="583.85" cy="62.5" rx="19.36" ry="3.25" transform="rotate(22.79 583.85 62.5)" fill="#e08a60" opacity="0.5"/>
<ellipse cx="603.35" cy="87.65" rx="18.33" ry="7" transform="rotate(-58.5 603.35 87.65)" fill="#b9512c"/>
<ellipse cx="603.35" cy="87.65" rx="12.73" ry="3.5" transform="rotate(-58.5 603.35 87.65)" fill="#e08a60" opacity="0.5"/>
<ellipse cx="620.1" cy="92.9" rx="16.78" ry="6.5" transform="rotate(-106.56 620.1 92.9)" fill="#b9512c"/>
<ellipse cx="620.1" cy="92.9" rx="11.58" ry="3.25" transform="rotate(-106.56 620.1 92.9)" fill="#e08a60" opacity="0.5"/>
<ellipse cx="642.15" cy="66" rx="18.92" ry="6.5" transform="rotate(138.99 642.15 66)" fill="#b9512c"/>
<ellipse cx="642.15" cy="66" rx="13.72" ry="3.25" transform="rotate(138.99 642.15 66)" fill="#e08a60" opacity="0.5"/>
<ellipse cx="638.4" cy="84.3" rx="13.16" ry="5.5" transform="rotate(-163.43 638.4 84.3)" fill="#b9512c"/>
<ellipse cx="638.4" cy="84.3" rx="8.76" ry="2.75" transform="rotate(-163.43 638.4 84.3)" fill="#e08a60" opacity="0.5"/>
<ellipse cx="599" cy="48" rx="19.65" ry="5" transform="rotate(63.43 599 48)" fill="#b9512c"/>
<ellipse cx="599" cy="48" rx="15.65" ry="2.5" transform="rotate(63.43 599 48)" fill="#e08a60" opacity="0.5"/>
<ellipse cx="625" cy="47" rx="19.81" ry="5" transform="rotate(108.43 625 47)" fill="#b9512c"/>
<ellipse cx="625" cy="47" rx="15.81" ry="2.5" transform="rotate(108.43 625 47)" fill="#e08a60" opacity="0.5"/>
</g>
<circle cx="614.7" cy="69" r="42" fill="#fff" filter="url(#speck)" opacity="0.4"/>
<path d="M585 41C575 45 566 50 560 52" stroke="#e0a080" stroke-width="2" fill="none" opacity="0.8"/>
<path d="M634.5 113.5C645 122 655 127 669.8 129.5C674 131 675.5 135 675 142M655 60C664 64 670 67 676 70" stroke="#e0d0c8" stroke-width="1" fill="none"/>
</g>
<g clip-path="url(#cG)">
<rect x="13" y="503.8" width="303.2" height="15.6" fill="url(#gSky)"/>
<rect x="13" y="519.3" width="303.2" height="70" fill="url(#gSeaG)"/>
<rect x="13" y="519.3" width="303.2" height="70" fill="#fff" filter="url(#ripple)" opacity="0.3"/>
<rect x="13" y="519.3" width="303.2" height="70" fill="#fff" filter="url(#rippleD)" opacity="0.45"/>
<rect x="13" y="589.2" width="303.2" height="70" fill="url(#gUwG)"/>
<rect x="13" y="589.2" width="303.2" height="70" fill="#fff" filter="url(#caust)" opacity="0.22"/>
<ellipse cx="250" cy="655" rx="70" ry="22" fill="#4aaec4" opacity="0.35" filter="url(#blur4)"/>
<path d="M19 621.6C22 618 27 616 31 616C35 616 37 619 40 620.5C46 619 52 616 58 612C62 607 66 604 71 604C78 604 82 609 81.5 614C81 620 76 624 68 624.5C55 625 35 625 22 624.5C19 624 18 622.5 19 621.6Z" fill="#15252a"/>
<rect x="94.6" y="588.2" width="27.3" height="47.4" rx="2" fill="url(#gCyl)"/>
<rect x="94.6" y="588.2" width="27.3" height="47.4" rx="2" fill="url(#pStripe)"/>
<rect x="94.6" y="588.2" width="27.3" height="21.33" rx="2" fill="url(#pStripe2)"/>
<path d="M121 589.3L136 588.6" stroke="#1a1a1a" stroke-width="0.8"/>
<g filter="url(#blur1)">
<path d="M140 584C136 594 148 600.5 172 600.5C212 600.5 262 598 288 595C297 593 300 589 298.5 582Z" fill="#0b0e0b"/>
<path d="M147 564C170 560 220 556 250 555.5C256 555.5 259 558 257 561L300 560.5L300 567L150 571Z" fill="#3f8f38"/>
<path d="M144 567C148 560 172 556.5 200 554.5C225 553 245 552.2 252 552.7C258 553.2 259 558 255.5 560.5C230 561 180 563 147 569Z" fill="#8ee27e"/>
<path d="M147 569C180 563 230 561 255.5 560.5L256 562.5C230 563 185 565 150 570.5Z" fill="#3d8a36"/>
<path d="M150 561C175 557.5 220 555 252 554.5" stroke="#b8f5aa" stroke-width="1.2" fill="none" opacity="0.8"/>
<path d="M258.7 549C260 544.5 281 543.5 283 547.5L283 561C276 563.5 264 563.5 258.7 561Z" fill="#2a2a2a"/>
<path d="M258.7 548.5C261 544 280 543.5 283 547.5L282.5 554C276 551 265 551 259 554.5Z" fill="#e2e2e2"/>
<path d="M142 566.5C160 563.5 230 560.5 292 561C300 561.5 302 567.5 301 573.5C300 580 298 585 290 586C240 589 180 591 145 590.5C135 590 133 583 133.5 578C134 572 137 567.5 142 566.5Z" fill="url(#gBoat)"/>
<path d="M136 573C134 580 136 587 143 590C138 586 137 579 139 571Z" fill="#3c8a34" opacity="0.7"/>
<path d="M265.4 591L268 599L272 591Z" fill="#4a4a4a"/>
</g>
</g>
<g clip-path="url(#cH)">
<rect x="332" y="503.8" width="164" height="21.5" fill="url(#gSkyC)"/>
<ellipse cx="350" cy="509" rx="25" ry="3" fill="#aebfcc" opacity="0.8" filter="url(#blur2)"/>
<ellipse cx="445" cy="510" rx="40" ry="4" fill="#a9bccb" opacity="0.8" filter="url(#blur2)"/>
<rect x="332" y="525.3" width="164" height="51" fill="url(#gSeaH)"/>
<rect x="332" y="525.3" width="164" height="51" fill="#fff" filter="url(#ripple)" opacity="0.3"/>
<rect x="332" y="525.3" width="164" height="51" fill="#fff" filter="url(#rippleD)" opacity="0.45"/>
<rect x="332" y="576.1" width="164" height="83" fill="url(#gUwH)"/>
<rect x="332" y="576.1" width="164" height="83" fill="#fff" filter="url(#caust)" opacity="0.55"/>
<path d="M337.7 622.5C341 619 347 614.5 352 614.3C356 614.2 360 618.5 364.9 618.9C370 619.2 374 614.5 379.2 611C385 606.5 390 599 396.4 598.2C400 597.6 403 598.2 405 599.6C409 602 411 606 410.7 611.8C410.5 617 407 620.5 403.5 621.8C395 623 385 622.5 374.9 622.5C365 622.7 355 624.5 346.3 625.4C341 626 336.5 625 337.7 622.5Z" fill="#15252a"/>
<rect x="429" y="577" width="35.8" height="70.3" rx="2" fill="#2c3f44"/>
<rect x="429" y="577" width="35.8" height="70.3" rx="2" fill="url(#pStripe)"/>
<rect x="429" y="577" width="35.8" height="30" rx="2" fill="url(#pStripe2)"/>
<path d="M428 564V573.5C428 577.5 436 578.5 447.2 578.5C458.4 578.5 466.4 577.5 466.4 573.5V564Z" fill="url(#gYel)"/>
<ellipse cx="447.2" cy="564" rx="19.2" ry="4.8" fill="#ebe27a"/>
<rect x="446.2" y="556.8" width="2.5" height="5.6" rx="1" fill="#c81e1e"/>
</g>
<g clip-path="url(#cI)">
<rect x="512" y="503.8" width="164.2" height="31.2" fill="url(#gSkyI)"/>
<ellipse cx="545" cy="514" rx="35" ry="5" fill="#a9bccb" opacity="0.85" filter="url(#blur2)"/>
<ellipse cx="630" cy="513" rx="45" ry="5" fill="#b0c2cf" opacity="0.8" filter="url(#blur2)"/>
<rect x="512" y="535" width="164.2" height="33.8" fill="url(#gSeaI)"/>
<rect x="512" y="535" width="164.2" height="33.8" fill="#fff" filter="url(#ripple)" opacity="0.3"/>
<rect x="512" y="535" width="164.2" height="33.8" fill="#fff" filter="url(#rippleD)" opacity="0.45"/>
<rect x="512" y="568.8" width="164.2" height="91" fill="url(#gUwI)"/>
<rect x="512" y="568.8" width="164.2" height="91" fill="#fff" filter="url(#caust)" opacity="0.3"/>
<path d="M680 552.5C665 550 650 556 647.3 572.4C645 582 644 588 640 593C636 598 630 600.5 622 601.5L616 602" stroke="#23292d" stroke-width="9" fill="none"/>
<path d="M646.5 578C645 588 638 598 624 601L616 602" stroke="#4c5e64" stroke-width="8" fill="none"/>
<path d="M646 573.5L648.5 573.5" stroke="#5a6a70" stroke-width="9" fill="none" opacity="0.6"/>
<path d="M612 603L606 604" stroke="#3a4a50" stroke-width="2.5"/>
<rect x="565.9" y="572.4" width="20.8" height="30" rx="2" fill="url(#gCylD)"/>
<rect x="565.9" y="572.4" width="20.8" height="30" rx="2" fill="url(#pStripe)"/>
<rect x="565.9" y="572.4" width="20.8" height="13.5" rx="2" fill="url(#pStripe2)"/>
<rect x="552.2" y="582" width="24.9" height="44.3" rx="2" fill="url(#gCylD)"/>
<rect x="552.2" y="582" width="24.9" height="44.3" rx="2" fill="url(#pStripe)"/>
<rect x="552.2" y="582" width="24.9" height="19.93" rx="2" fill="url(#pStripe2)"/>
<rect x="583.3" y="586.8" width="25.7" height="45.5" rx="2" fill="url(#gCylD)"/>
<rect x="583.3" y="586.8" width="25.7" height="45.5" rx="2" fill="url(#pStripe)"/>
<rect x="583.3" y="586.8" width="25.7" height="20.48" rx="2" fill="url(#pStripe2)"/>
<circle cx="585.5" cy="607" r="0.9" fill="#e02020"/>
</g>
<text x="-0.2" y="12" font-family="Liberation Sans, sans-serif" font-weight="bold" fill="#000" font-size="20.5">a</text>
<text x="-0.6" y="513.3" font-family="Liberation Sans, sans-serif" font-weight="bold" fill="#000" font-size="20.5">g</text>
<text x="319" y="518.7" font-family="Liberation Sans, sans-serif" font-weight="bold" fill="#000" font-size="20.5">h</text>
<text x="503.8" y="518.7" font-family="Liberation Sans, sans-serif" font-weight="bold" fill="#000" font-size="20.5">i</text>
</svg></body></html>
